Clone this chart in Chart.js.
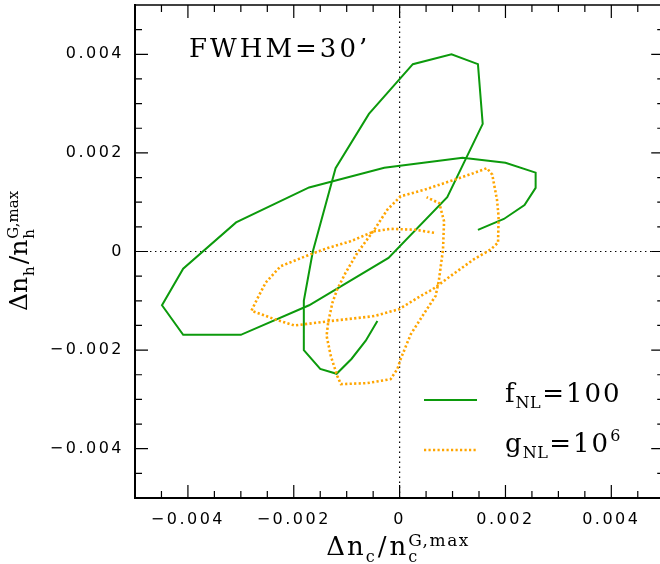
<!DOCTYPE html>
<html>
<head>
<meta charset="utf-8">
<script src="https://cdn.jsdelivr.net/npm/chart.js@4.4.1/dist/chart.umd.min.js"></script>
<style>
  html, body { margin: 0; padding: 0; background: #fff; }
  #wrap { width: 660px; height: 564px; position: relative; }
</style>
</head>
<body>
<div id="wrap"><canvas id="myChart"></canvas></div>
<script>
// tick labels
const xTicks = [-0.004, -0.002, 0, 0.002, 0.004];
const yTicks = [-0.004, -0.002, 0, 0.002, 0.004];

// f_NL = 100 (green, solid)
const fnl_x = [-0.00042, -0.00064, -0.00091, -0.00119, -0.0015, -0.00181, -0.00181, -0.00164, -0.00121, -0.00058,
               0.00025, 0.00098, 0.00148, 0.00157, 0.0009, -0.00021, -0.00171, -0.003, -0.00409, -0.00449,
               -0.00409, -0.00309, -0.00171, -0.00029, 0.00119, 0.002, 0.00257, 0.00257, 0.00236, 0.00197, 0.00148];
const fnl_y = [-0.00141, -0.00181, -0.00218, -0.00248, -0.00238, -0.002, -0.001, 0, 0.00169, 0.00279,
               0.0038, 0.004, 0.0038, 0.00259, 0.0011, -0.00013, -0.00109, -0.00169, -0.00169, -0.00109,
               -0.00035, 0.00059, 0.0013, 0.0017, 0.0019, 0.0018, 0.0016, 0.00129, 0.00094, 0.00066, 0.00044];

// g_NL = 10^6 (orange, dotted)
const gnl_x = [0.00065, 0.0003, -0.00017, -0.00048, -0.00092, -0.00136, -0.00174, -0.00225, -0.00253, -0.00268,
               -0.0028, -0.00237, -0.00199, -0.0013, -0.00048, -0.00001, 0.0004, 0.00062, 0.00096, 0.0014,
               0.00172, 0.00186, 0.00187, 0.00184, 0.00175, 0.00165, 0.0014, 0.00102, 0.00046, 0.00002,
               -0.00023, -0.00048, -0.0008, -0.00102, -0.00118, -0.00127, -0.00135, -0.00138, -0.0013, -0.00118,
               -0.00111, -0.00061, -0.00017, -0.00004, 0.00002, 0.00021, 0.00043, 0.00068, 0.00074, 0.00077,
               0.00082, 0.00084, 0.00075, 0.00051];
const gnl_y = [0.00038, 0.00044, 0.00046, 0.00041, 0.00021, 0.00007, -0.00008, -0.0003, -0.00063, -0.00094,
               -0.0012, -0.00137, -0.0015, -0.00141, -0.00131, -0.00117, -0.0009, -0.00077, -0.0005, -0.00016,
               0.00004, 0.00018, 0.00071, 0.00105, 0.00156, 0.00169, 0.00159, 0.00145, 0.00125, 0.00112,
               0.00085, 0.00044, -0.00003, -0.00043, -0.00077, -0.00104, -0.00144, -0.00171, -0.00212, -0.00252,
               -0.00269, -0.00267, -0.00259, -0.00238, -0.00218, -0.00168, -0.00131, -0.0009, -0.0006, -0.00036,
               0.00004, 0.00061, 0.00098, 0.0011];

const GREEN = '#0c9a0c';
const ORANGE = '#ffa500';
const SERIF = '"DejaVu Serif", serif';

const toPoints = (xs, ys) => xs.map((x, i) => ({x: x, y: ys[i]}));
const tickLabel = (v, list) => {
    const hit = list.find(t => Math.abs(t - v) < 1e-9);
    if (hit === undefined) return '';
    if (hit === 0) return '0';
    return (hit < 0 ? '\u2212' : '') + Math.abs(hit).toFixed(3);
};

// text with sub/superscripts: parts {t, s (size), dy, ls (letter spacing), gap, stack}
function drawRich(ctx, parts, x, y, center) {
    let cx = 0, prevStart = 0, prevW = 0;
    const laid = [];
    for (const p of parts) {
        ctx.letterSpacing = '0px';
        ctx.font = p.s + 'px ' + SERIF;
        const w = ctx.measureText(p.t).width + (p.ls || 0) * p.t.length;
        let sx;
        if (p.stack) { sx = prevStart; cx = Math.max(prevStart + prevW, sx + w); }
        else { sx = cx + (p.gap || 0); cx = sx + w; }
        laid.push({p: p, sx: sx});
        prevStart = sx; prevW = w;
    }
    const x0 = center ? x - cx / 2 : x;
    for (const o of laid) {
        ctx.font = o.p.s + 'px ' + SERIF;
        ctx.letterSpacing = (o.p.ls || 0) + 'px';
        ctx.fillText(o.p.t, x0 + o.sx, y + (o.p.dy || 0));
    }
    ctx.letterSpacing = '0px';
}

const xTitle = [
    {t: '\u0394n', s: 26, ls: 2},
    {t: 'c', s: 16, dy: 7},
    {t: '/', s: 26, gap: 3, ls: 3},
    {t: 'n', s: 26, ls: 2},
    {t: 'c', s: 16, dy: 7},
    {t: 'G,max', s: 17, dy: -9, ls: 1.5, stack: true}
];
const yTitle = [
    {t: '\u0394n', s: 25},
    {t: 'h', s: 15, dy: 7, gap: 1},
    {t: '/', s: 25, gap: 2},
    {t: 'n', s: 25},
    {t: 'h', s: 15, dy: 7, gap: 1},
    {t: 'G,max', s: 15, dy: -9, stack: true}
];

const frame = {
    id: 'frame',
    beforeDraw(chart) {
        chart.ctx.letterSpacing = '2.5px';
    },
    afterDraw(chart) {
        const {ctx, chartArea: a, scales: {x, y}} = chart;
        ctx.save();
        ctx.letterSpacing = '0px';
        ctx.strokeStyle = '#000';
        ctx.fillStyle = '#000';

        // top border
        ctx.lineWidth = 1.5;
        ctx.beginPath();
        ctx.moveTo(a.left, a.top);
        ctx.lineTo(a.right, a.top);
        ctx.stroke();

        // inward ticks on all sides
        const xr = x.getPixelForValue(0.005);
        ctx.lineWidth = 1.2;
        ctx.beginPath();
        for (let k = -9; k <= 9; k++) {
            const v = k * 0.0005;
            const len = (k % 4 === 0) ? 13 : 7;
            const px = x.getPixelForValue(v);
            if (px < a.right + 1) {
                ctx.moveTo(px, a.bottom); ctx.lineTo(px, a.bottom - len);
                ctx.moveTo(px, a.top); ctx.lineTo(px, a.top + len);
            }
            const py = y.getPixelForValue(v);
            ctx.moveTo(a.left, py); ctx.lineTo(a.left + len, py);
            ctx.moveTo(xr, py); ctx.lineTo(xr - len, py);
        }
        ctx.stroke();

        ctx.textBaseline = 'alphabetic';
        ctx.textAlign = 'left';

        // annotation
        drawRich(ctx, [{t: 'FWHM=30\u2019', s: 26, ls: 3}], 189, 57, false);

        // axis titles
        drawRich(ctx, xTitle, 398, 555, true);
        ctx.save();
        ctx.translate(27, 251);
        ctx.rotate(-Math.PI / 2);
        drawRich(ctx, yTitle, 0, 0, true);
        ctx.restore();

        // legend
        const ds = chart.data.datasets;
        ctx.lineWidth = ds[0].borderWidth;
        ctx.strokeStyle = ds[0].borderColor;
        ctx.beginPath(); ctx.moveTo(424, 400); ctx.lineTo(477, 400); ctx.stroke();
        ctx.lineWidth = ds[1].borderWidth;
        ctx.strokeStyle = ds[1].borderColor;
        ctx.setLineDash(ds[1].borderDash);
        ctx.beginPath(); ctx.moveTo(424, 450); ctx.lineTo(477, 450); ctx.stroke();
        ctx.setLineDash([]);
        drawRich(ctx, [
            {t: 'f', s: 26},
            {t: 'NL', s: 16, dy: 6, gap: 1, ls: 0.5},
            {t: '=100', s: 26, gap: 1, ls: 2}
        ], 505, 402, false);
        drawRich(ctx, [
            {t: 'g', s: 26},
            {t: 'NL', s: 16, dy: 6, gap: 1, ls: 0.5},
            {t: '=10', s: 26, gap: 1, ls: 2},
            {t: '6', s: 16, dy: -11}
        ], 505, 452, false);

        ctx.restore();
    }
};

const ctx = document.getElementById('myChart').getContext('2d');
const myChart = new Chart(ctx, {
    type: 'scatter',
    data: {
        datasets: [
            {
                label: 'fNL=100',
                data: toPoints(fnl_x, fnl_y),
                showLine: true,
                borderColor: GREEN,
                borderWidth: 2,
                pointRadius: 0,
                tension: 0,
                order: 1
            },
            {
                label: 'gNL=10^6',
                data: toPoints(gnl_x, gnl_y),
                showLine: true,
                borderColor: ORANGE,
                borderWidth: 2.6,
                borderDash: [2.2, 2.3],
                pointRadius: 0,
                tension: 0,
                order: 0
            },
            {
                label: 'zero-h',
                data: [{x: -0.005, y: 0}, {x: 0.005, y: 0}],
                showLine: true,
                borderColor: '#000',
                borderWidth: 1.2,
                borderDash: [1.4, 3.6],
                pointRadius: 0,
                order: 10
            },
            {
                label: 'zero-v',
                data: [{x: 0, y: -0.005}, {x: 0, y: 0.005}],
                showLine: true,
                borderColor: '#000',
                borderWidth: 1.2,
                borderDash: [1.4, 3.6],
                pointRadius: 0,
                order: 10
            }
        ]
    },
    options: {
        responsive: true,
        maintainAspectRatio: false,
        animation: false,
        layout: { padding: { top: 5, right: 0, left: 0, bottom: 0 } },
        plugins: { legend: { display: false }, tooltip: { enabled: false } },
        scales: {
            x: {
                type: 'linear',
                min: -0.005,
                max: 0.00492,
                grid: { display: false, drawTicks: false },
                border: { display: true, color: '#000', width: 2 },
                ticks: {
                    stepSize: 0.0005,
                    autoSkip: false,
                    maxRotation: 0,
                    padding: 12,
                    color: '#000',
                    font: { family: '"DejaVu Sans", sans-serif', size: 16 },
                    callback: (v) => tickLabel(v, xTicks)
                },
                afterFit: (s) => { s.height = 66; s.paddingLeft = 0; s.paddingRight = 0; }
            },
            y: {
                type: 'linear',
                min: -0.005,
                max: 0.005,
                grid: { display: false, drawTicks: false },
                border: { display: true, color: '#000', width: 2 },
                ticks: {
                    stepSize: 0.0005,
                    autoSkip: false,
                    padding: 11,
                    color: '#000',
                    font: { family: '"DejaVu Sans", sans-serif', size: 16 },
                    callback: (v) => tickLabel(v, yTicks)
                },
                afterFit: (s) => { s.width = 135; s.paddingTop = 0; s.paddingBottom = 0; }
            }
        }
    },
    plugins: [frame]
});
</script>
</body>
</html>
